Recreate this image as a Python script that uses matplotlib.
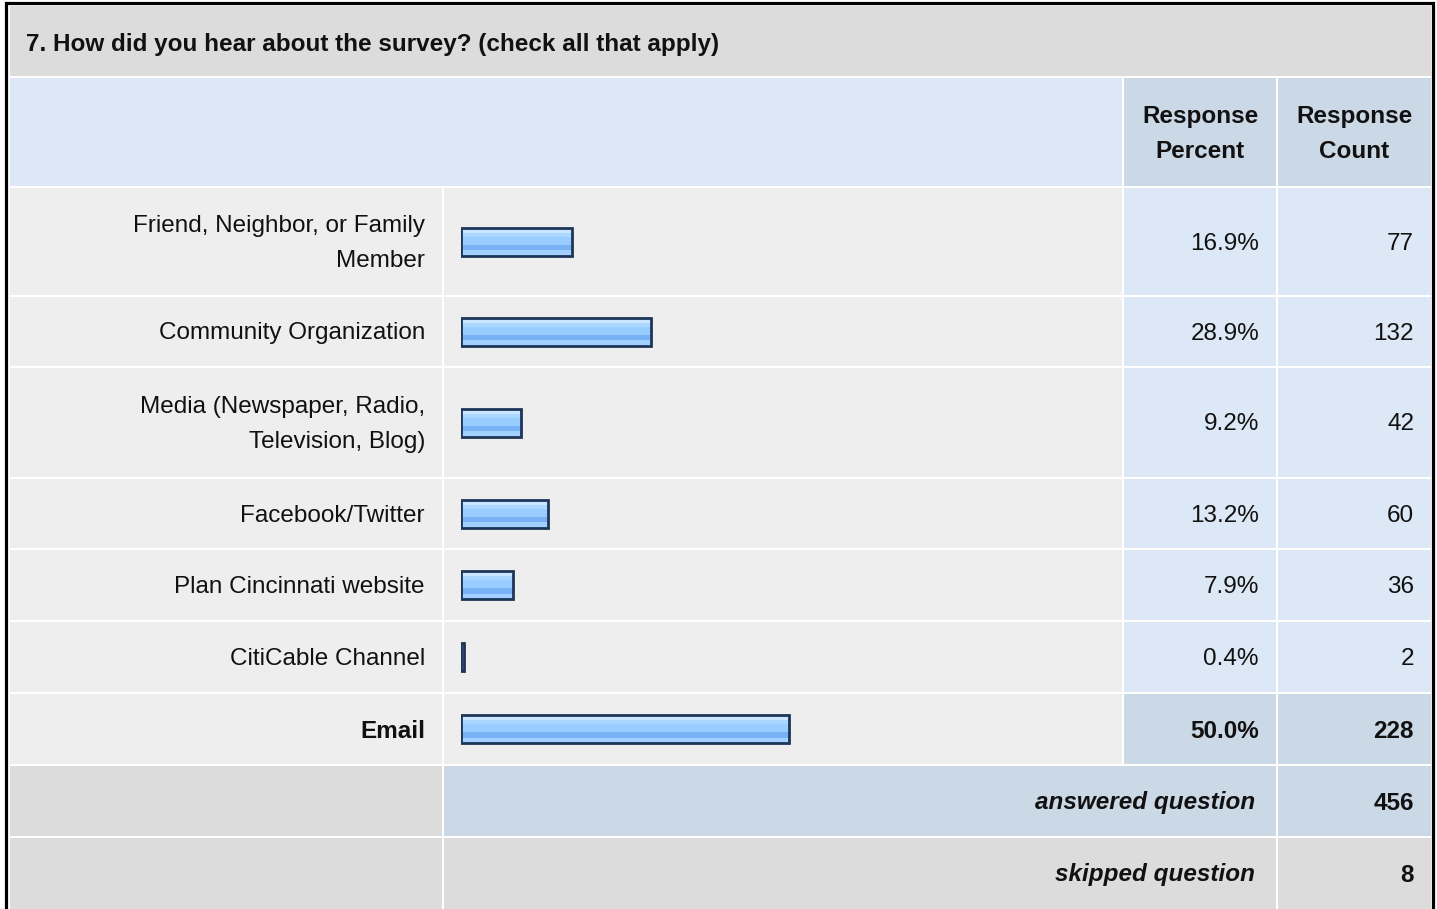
import matplotlib.pyplot as plt
from matplotlib.patches import Rectangle

plt.rcParams['font.family'] = ['Liberation Sans', 'DejaVu Sans']

title = "7. How did you hear about the survey? (check all that apply)"
labels = ["Friend, Neighbor, or Family\nMember", "Community Organization",
          "Media (Newspaper, Radio,\nTelevision, Blog)", "Facebook/Twitter",
          "Plan Cincinnati website", "CitiCable Channel", "Email"]
percents = [16.9, 28.9, 9.2, 13.2, 7.9, 0.4, 50.0]
counts = [77, 132, 42, 60, 36, 2, 228]
answered = 456
skipped = 8

W, H = 1437, 909
fig = plt.figure(figsize=(W / 100, H / 100), dpi=100)
fig.patch.set_facecolor('white')

bg = fig.add_axes([0, 0, 1, 1])
bg.set_xlim(0, W)
bg.set_ylim(H, 0)
bg.axis('off')

# table layout (pixels)
col_x = [(10, 442), (444, 1122), (1124, 1276), (1278, 1431)]
title_row = (6, 76)
head_row = (78, 186)
rows = [(188, 295), (297, 366), (368, 477), (479, 548), (550, 620), (622, 692), (694, 764)]
ans_row = (766, 836)
skip_row = (838, 912)

GREY = '#dcdcdc'
LIGHT = '#eeeeee'
BLUE = '#dce8f5'
BLUE2 = '#cbd8e6'
INK = '#111111'
fs = 17.5
ls = 1.72
dy = 2


def cell(x0, x1, y0, y1, color):
    bg.add_patch(Rectangle((x0, y0), x1 - x0, y1 - y0, facecolor=color, edgecolor='none'))


# title
cell(col_x[0][0], col_x[3][1], *title_row, GREY)
bg.text(26, 44, title, fontsize=fs, fontweight='bold', va='center', ha='left', color=INK)

# header
cell(col_x[0][0], col_x[1][1], *head_row, BLUE)
cell(*col_x[2], *head_row, BLUE2)
cell(*col_x[3], *head_row, BLUE2)
bg.text(sum(col_x[2]) / 2, sum(head_row) / 2 + dy, "Response\nPercent", fontsize=fs, fontweight='bold',
        ha='center', va='center', linespacing=ls, color=INK)
bg.text(sum(col_x[3]) / 2, sum(head_row) / 2 + dy, "Response\nCount", fontsize=fs, fontweight='bold',
        ha='center', va='center', linespacing=ls, color=INK)

# answer rows
for i, (lab, p, c) in enumerate(zip(labels, percents, counts)):
    y0, y1 = rows[i]
    yc = (y0 + y1) / 2 + dy
    last = i == len(labels) - 1
    cell(*col_x[0], y0, y1, LIGHT)
    cell(*col_x[1], y0, y1, LIGHT)
    cell(*col_x[2], y0, y1, BLUE2 if last else BLUE)
    cell(*col_x[3], y0, y1, BLUE2 if last else BLUE)
    w = 'bold' if last else 'normal'
    bg.text(425, yc, lab, fontsize=fs, fontweight=w, ha='right', va='center',
            linespacing=ls, color=INK)
    bg.text(1259, yc, f"{p:.1f}%", fontsize=fs, fontweight=w, ha='right', va='center', color=INK)
    bg.text(1414, yc, f"{c}", fontsize=fs, fontweight=w, ha='right', va='center', color=INK)

# answered / skipped
cell(*col_x[0], *ans_row, GREY)
cell(col_x[1][0], col_x[2][1], *ans_row, BLUE2)
cell(*col_x[3], *ans_row, BLUE2)
bg.text(1255, sum(ans_row) / 2 + dy, "answered question", fontsize=fs, fontweight='bold',
        style='italic', ha='right', va='center', color=INK)
bg.text(1414, sum(ans_row) / 2 + dy, f"{answered}", fontsize=fs, fontweight='bold',
        ha='right', va='center', color=INK)

cell(*col_x[0], *skip_row, GREY)
cell(col_x[1][0], col_x[2][1], *skip_row, GREY)
cell(*col_x[3], *skip_row, GREY)
bg.text(1255, 875, "skipped question", fontsize=fs, fontweight='bold',
        style='italic', ha='right', va='center', color=INK)
bg.text(1414, 875, f"{skipped}", fontsize=fs, fontweight='bold', ha='right', va='center', color=INK)

# outer frame
bg.plot([5.5, 5.5, 1433, 1433], [H + 5, 2.5, 2.5, H + 5], color='black', lw=2.3,
        solid_joinstyle='miter', zorder=5)

# bars in their own axes: 0-100 % over the bar column
ax = fig.add_axes([461 / W, 0, 656 / W, 1])
ax.set_xlim(0, 100)
ax.set_ylim(H, 0)
ax.axis('off')
ax.patch.set_alpha(0)

centers = [(a + b) / 2 for a, b in rows]
bh = 28
# glossy stripes: (offset from top as fraction, height fraction, colour)
stripes = [(0.00, 1.00, '#a6d3ff'),
           (0.05, 0.14, '#c9e5ff'),
           (0.19, 0.14, '#aad6ff'),
           (0.33, 0.28, '#99ccff'),
           (0.61, 0.20, '#78b2f4'),
           (0.81, 0.19, '#a2d1ff')]
for off, frac, col in stripes:
    ys = [c - bh / 2 + off * bh + frac * bh / 2 for c in centers]
    ax.barh(ys, percents, height=frac * bh, left=0, color=col, edgecolor='none')
ax.barh(centers, percents, height=bh, left=0, facecolor='none', edgecolor='#1c3558', linewidth=2.0)

fig.savefig('out.png', dpi=100)
